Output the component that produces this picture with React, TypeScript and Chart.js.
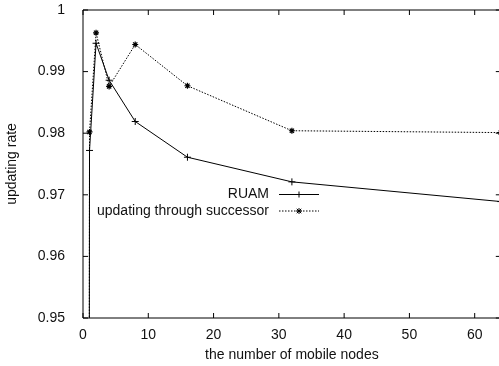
import React, { useEffect, useRef } from "react";
import { Chart, registerables } from "chart.js";

Chart.register(...registerables);

// ---- data ----
const nodes = [0, 1, 2, 4, 8, 16, 32, 64];
const ruamRate = [0, 0.9772, 0.9946, 0.9886, 0.9819, 0.9761, 0.9721, 0.9689];
const successorRate = [0, 0.9802, 0.9963, 0.9876, 0.9944, 0.9877, 0.9804, 0.9801];
const seriesNames = ["RUAM", "updating through successor"];
const xTitle = "the number of mobile nodes";
const yTitle = "updating rate";

const FONT = '"Liberation Sans", Arial, Helvetica, sans-serif';
const INK = "#111";

function drawMarker(ctx: CanvasRenderingContext2D, style: string, x: number, y: number, r: number) {
  ctx.beginPath();
  ctx.moveTo(x - r, y);
  ctx.lineTo(x + r, y);
  ctx.moveTo(x, y - r);
  ctx.lineTo(x, y + r);
  if (style === "star") {
    const d = r * 0.75;
    ctx.moveTo(x - d, y - d);
    ctx.lineTo(x + d, y + d);
    ctx.moveTo(x - d, y + d);
    ctx.lineTo(x + d, y - d);
  }
  ctx.stroke();
}

const framePlugin = {
  id: "gnuFrame",
  beforeDatasetsDraw(chart: any) {
    const { ctx, chartArea } = chart;
    const { left, right, top, bottom } = chartArea;
    const xs = chart.scales.x;
    const ys = chart.scales.y;
    const tl = 5;
    ctx.save();
    ctx.strokeStyle = "#000";
    ctx.lineWidth = 1;
    ctx.beginPath();
    ctx.rect(left, top, right - left, bottom - top);
    ctx.stroke();
    ctx.beginPath();
    xs.ticks.forEach((t: any) => {
      const px = xs.getPixelForValue(t.value);
      ctx.moveTo(px, bottom);
      ctx.lineTo(px, bottom - tl);
      ctx.moveTo(px, top);
      ctx.lineTo(px, top + tl);
    });
    ys.ticks.forEach((t: any) => {
      const py = ys.getPixelForValue(t.value);
      ctx.moveTo(left, py);
      ctx.lineTo(left + tl, py);
      ctx.moveTo(right, py);
      ctx.lineTo(right - tl, py);
    });
    ctx.stroke();
    ctx.restore();
  },
};

const legendPlugin = {
  id: "gnuLegend",
  afterDatasetsDraw(chart: any) {
    const { ctx } = chart;
    const textRight = 269;
    const lineStart = 279;
    const lineEnd = 319;
    const rows = [
      { y: 194.5, ds: chart.data.datasets[0], style: "cross" },
      { y: 211, ds: chart.data.datasets[1], style: "star" },
    ];
    ctx.save();
    ctx.font = `14px ${FONT}`;
    ctx.fillStyle = INK;
    ctx.textAlign = "right";
    ctx.textBaseline = "middle";
    rows.forEach((row) => {
      ctx.fillText(row.ds.label, textRight, row.y);
      ctx.strokeStyle = "#000";
      ctx.lineWidth = 1;
      ctx.setLineDash(row.ds.borderDash || []);
      ctx.beginPath();
      ctx.moveTo(lineStart, row.y);
      ctx.lineTo(lineEnd, row.y);
      ctx.stroke();
      ctx.setLineDash([]);
      drawMarker(ctx, row.style, (lineStart + lineEnd) / 2, row.y, 3);
    });
    ctx.restore();
  },
};

export default function App() {
  const ref = useRef<HTMLCanvasElement | null>(null);

  useEffect(() => {
    if (!ref.current) return;
    const pointRadii = nodes.map((n) => (n === 0 ? 0 : 3.5));
    const chart = new Chart(ref.current, {
      type: "line",
      data: {
        datasets: [
          {
            label: seriesNames[0],
            data: nodes.map((n, i) => ({ x: n, y: ruamRate[i] })),
            borderColor: "#000",
            backgroundColor: "#000",
            borderWidth: 1,
            pointStyle: "cross",
            pointRadius: pointRadii,
            pointBorderColor: "#000",
            pointBorderWidth: 1,
            tension: 0,
            fill: false,
          },
          {
            label: seriesNames[1],
            data: nodes.map((n, i) => ({ x: n, y: successorRate[i] })),
            borderColor: "#000",
            backgroundColor: "#000",
            borderWidth: 1,
            borderDash: [1.5, 1.5],
            pointStyle: "star",
            pointRadius: pointRadii.map((r) => (r ? 3 : 0)),
            pointBorderColor: "#000",
            pointBorderWidth: 1.2,
            tension: 0,
            fill: false,
          },
        ],
      },
      options: {
        animation: false,
        responsive: false,
        events: [],
        layout: { padding: { top: 10, right: 3.5, left: 0, bottom: 0 } },
        plugins: {
          legend: { display: false },
          tooltip: { enabled: false },
        },
        scales: {
          x: {
            type: "linear",
            min: 0,
            max: 64,
            grid: { display: false },
            border: { display: false },
            ticks: {
              stepSize: 10,
              includeBounds: false,
              padding: 1,
              color: INK,
              font: { family: FONT, size: 14 },
              maxRotation: 0,
            },
            title: {
              display: true,
              text: xTitle,
              color: INK,
              font: { family: FONT, size: 14 },
              padding: { top: 0, bottom: 2 },
            },
            afterFit: (s: any) => {
              s.height = 48;
            },
          },
          y: {
            type: "linear",
            min: 0.95,
            max: 1,
            grid: { display: false },
            border: { display: false },
            ticks: {
              stepSize: 0.01,
              padding: 10,
              color: INK,
              font: { family: FONT, size: 14 },
              callback: (v: any) => String(Number(Number(v).toFixed(2))),
            },
            title: {
              display: true,
              text: yTitle,
              color: INK,
              font: { family: FONT, size: 14 },
              padding: { top: 4, bottom: 0 },
            },
            afterFit: (s: any) => {
              s.width = 83;
              s.paddingTop = 0;
              s.paddingBottom = 0;
            },
          },
        },
      },
      plugins: [framePlugin, legendPlugin],
    } as any);
    return () => chart.destroy();
  }, []);

  return (
    <div
      style={{
        position: "fixed",
        left: 0,
        top: 0,
        width: 499,
        height: 366,
        overflow: "hidden",
        background: "#fff",
      }}
    >
      <canvas ref={ref} width={506} height={366} style={{ display: "block" }} />
    </div>
  );
}
